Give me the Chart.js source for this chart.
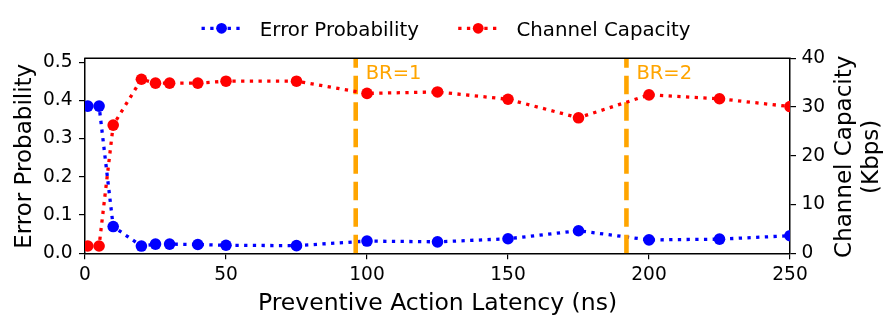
<!DOCTYPE html>
<html>
<head>
<meta charset="utf-8">
<script src="https://cdn.jsdelivr.net/npm/chart.js@4"></script>
<style>
html,body{margin:0;padding:0;background:#fff;}
#wrap{width:896px;height:327px;}
</style>
</head>
<body>
<div id="wrap"><canvas id="c" width="896" height="327"></canvas></div>
<script>
// ---- data ----
const latency   = [1, 5, 10, 20, 25, 30, 40, 50, 75, 100, 125, 150, 175, 200, 225, 250];
const errorProb = [0.385, 0.385, 0.070, 0.019, 0.024, 0.024, 0.023, 0.021, 0.020, 0.032, 0.030, 0.038, 0.059, 0.035, 0.037, 0.046];
const capacity  = [1.5, 1.5, 26.3, 35.7, 34.9, 34.9, 34.9, 35.3, 35.3, 32.8, 33.1, 31.6, 27.8, 32.5, 31.7, 30.1];
const xTicks    = [0, 50, 100, 150, 200, 250];
const errTicks  = [0, 0.1, 0.2, 0.3, 0.4, 0.5];
const capTicks  = [0, 10, 20, 30, 40];
const brPositions = [96, 192];
const brLabels  = ['BR=1', 'BR=2'];
const seriesNames = ['Error Probability', 'Channel Capacity'];
const xTitle = 'Preventive Action Latency (ns)';
const leftTitle = 'Error Probability';
const rightTitle = ['Channel Capacity', '(Kbps)'];

// ---- styles ----
const FONT = '"DejaVu Sans", "Liberation Sans", sans-serif';
const BLUE = '#0000ff', RED = '#ff0000', ORANGE = '#ffa500';
const LW = 3.3, DASH = [3.3, 5.4];

function pts(xs, ys) { return xs.map((x, i) => ({ x: x, y: ys[i] })); }
function fixTicks(list) { return function (scale) { scale.ticks = list.map(v => ({ value: v })); }; }

const decor = {
  id: 'decor',
  beforeDatasetDraw(chart, args) {
    if (args.index !== 1) return;
    const { ctx, chartArea: a, scales } = chart;
    ctx.save();
    ctx.beginPath();
    ctx.rect(a.left, a.top, a.right - a.left, a.bottom - a.top);
    ctx.clip();
    brPositions.forEach(v => {
      const px = scales.x.getPixelForValue(v);
      ctx.strokeStyle = ORANGE;
      ctx.lineWidth = 4.6;
      ctx.lineCap = 'butt';
      ctx.setLineDash([18.5, 8]);
      ctx.beginPath();
      ctx.moveTo(px, a.bottom);
      ctx.lineTo(px, a.top);
      ctx.stroke();
    });
    ctx.restore();
    ctx.save();
    ctx.fillStyle = ORANGE;
    ctx.font = '19.5px ' + FONT;
    ctx.textAlign = 'left';
    ctx.textBaseline = 'alphabetic';
    brPositions.forEach((v, i) => {
      ctx.fillText(brLabels[i], scales.x.getPixelForValue(v) + 10, scales.y.getPixelForValue(0.457));
    });
    ctx.restore();
  },
  afterDraw(chart) {
    const { ctx, chartArea: a } = chart;
    ctx.save();
    // top spine
    ctx.strokeStyle = '#000';
    ctx.lineWidth = 1.5;
    ctx.beginPath();
    ctx.moveTo(a.left - 0.75, a.top);
    ctx.lineTo(a.right + 0.75, a.top);
    ctx.stroke();

    ctx.fillStyle = '#000';
    // x title
    ctx.font = '23.5px ' + FONT;
    ctx.textAlign = 'center';
    ctx.textBaseline = 'alphabetic';
    ctx.fillText(xTitle, (a.left + a.right) / 2, 310);
    // left title
    const cy = (a.top + a.bottom) / 2;
    ctx.save();
    ctx.translate(30.5, cy + 0.5);
    ctx.rotate(-Math.PI / 2);
    ctx.font = '23px ' + FONT;
    ctx.fillText(leftTitle, 0, 0);
    ctx.restore();
    // right title
    ctx.save();
    ctx.translate(850.5, cy + 1);
    ctx.rotate(-Math.PI / 2);
    ctx.font = '23px ' + FONT;
    ctx.fillText(rightTitle[0], 0, 0);
    ctx.fillText(rightTitle[1], 0, 27.5);
    ctx.restore();

    // legend
    ctx.font = '19.8px ' + FONT;
    const handle = 40, gapText = 18.3, colGap = 39.3;
    const w0 = ctx.measureText(seriesNames[0]).width;
    const w1 = ctx.measureText(seriesNames[1]).width;
    const total = handle + gapText + w0 + colGap + handle + gapText + w1;
    let x0 = 446 - total / 2;
    const ly = 28.3;
    [[seriesNames[0], BLUE, w0], [seriesNames[1], RED, w1]].forEach(([name, col, w]) => {
      ctx.strokeStyle = col;
      ctx.lineWidth = LW;
      ctx.lineCap = 'butt';
      ctx.setLineDash(DASH);
      ctx.beginPath();
      ctx.moveTo(x0, ly);
      ctx.lineTo(x0 + handle, ly);
      ctx.stroke();
      ctx.setLineDash([]);
      ctx.fillStyle = col;
      ctx.beginPath();
      ctx.arc(x0 + handle / 2, ly, 5.4, 0, Math.PI * 2);
      ctx.fill();
      ctx.fillStyle = '#000';
      ctx.textAlign = 'left';
      ctx.textBaseline = 'alphabetic';
      ctx.fillText(name, x0 + handle + gapText, 35.6);
      x0 += handle + gapText + w + colGap;
    });
    ctx.restore();
  }
};

const tickFont = { family: FONT, size: 18.6 };
const gridOpts = { display: true, drawOnChartArea: false, drawTicks: true, tickLength: 6, color: '#000', lineWidth: 1.2 };
const borderOpts = { display: true, color: '#000', width: 1.5 };

new Chart(document.getElementById('c'), {
  type: 'line',
  data: {
    datasets: [
      {
        label: seriesNames[0],
        data: pts(latency, errorProb),
        yAxisID: 'y',
        borderColor: BLUE,
        backgroundColor: BLUE,
        borderWidth: LW,
        borderDash: DASH,
        borderCapStyle: 'butt',
        pointRadius: 5.8,
        pointBorderWidth: 0,
        pointBackgroundColor: BLUE,
        tension: 0,
        clip: 0,
        order: 1
      },
      {
        label: seriesNames[1],
        data: pts(latency, capacity),
        yAxisID: 'y2',
        borderColor: RED,
        backgroundColor: RED,
        borderWidth: LW,
        borderDash: DASH,
        borderCapStyle: 'butt',
        pointRadius: 5.8,
        pointBorderWidth: 0,
        pointBackgroundColor: RED,
        tension: 0,
        clip: 0,
        order: 0
      }
    ]
  },
  options: {
    responsive: false,
    devicePixelRatio: 1,
    animation: false,
    layout: { padding: { top: 58.3, left: 0, right: 0, bottom: 0 } },
    plugins: { legend: { display: false }, title: { display: false }, tooltip: { enabled: false } },
    scales: {
      x: {
        type: 'linear',
        position: 'bottom',
        min: 0, max: 250,
        afterBuildTicks: fixTicks(xTicks),
        afterFit(s) { s.height = 327 - 253.3; },
        grid: gridOpts,
        border: borderOpts,
        ticks: { font: tickFont, color: '#000', padding: 4.3, maxRotation: 0, callback: v => String(v) }
      },
      y: {
        type: 'linear',
        position: 'left',
        min: 0, max: 0.51,
        afterBuildTicks: fixTicks(errTicks),
        afterFit(s) { s.width = 85; },
        grid: gridOpts,
        border: borderOpts,
        ticks: { font: tickFont, color: '#000', padding: 6.5, callback: v => Number(v).toFixed(1) }
      },
      y2: {
        type: 'linear',
        position: 'right',
        min: 0, max: 40,
        afterBuildTicks: fixTicks(capTicks),
        afterFit(s) { s.width = 896 - 790; },
        grid: gridOpts,
        border: borderOpts,
        ticks: { font: tickFont, color: '#000', padding: 5.5, callback: v => String(v) }
      }
    }
  },
  plugins: [decor]
});
</script>
</body>
</html>
